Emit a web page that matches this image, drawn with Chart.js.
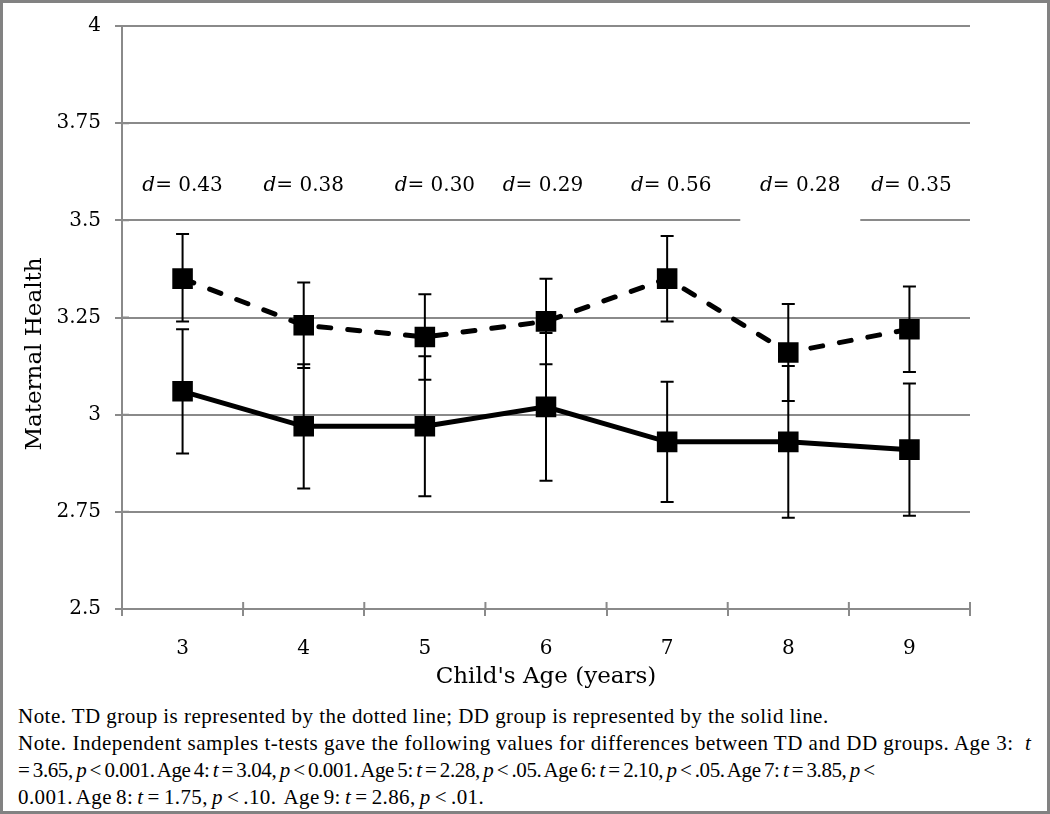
<!DOCTYPE html>
<html>
<head>
<meta charset="utf-8">
<script src="https://cdn.jsdelivr.net/npm/chart.js@4.4.0/dist/chart.umd.min.js"></script>
<style>
    html, body { margin: 0; padding: 0; background: #fff; }
    #wrap { position: relative; width: 1050px; height: 814px; overflow: hidden; background: #fff; }
    #frame { position: absolute; left: 0; top: 0; width: 1050px; height: 814px; box-sizing: border-box; border: 3px solid #828282; pointer-events: none; }
    #chart { position: absolute; left: 0; top: 0; }
    #notes { position: absolute; left: 18px; top: 703px; font-family: "Liberation Serif", serif; font-size: 21px; line-height: 27px; color: #000; white-space: nowrap; }
    #notes span { display: inline-block; }
</style>
</head>
<body>
<div id="wrap">
    <canvas id="chart" width="1050" height="700"></canvas>
    <div id="notes">
        <span data-w="811">Note. TD group is represented by the dotted line; DD group is represented by the solid line.</span><br>
        <span data-w="1013">Note. Independent samples t-tests gave the following values for differences between TD and DD groups. Age 3:&nbsp; <i>t</i></span><br>
        <span data-w="803">= 3.65, <i>p</i> &lt; 0.001. Age 4: <i>t</i> = 3.04, <i>p</i> &lt; 0.001. Age 5: <i>t</i> = 2.28, <i>p</i> &lt; .05. Age 6: <i>t</i> = 2.10, <i>p</i> &lt; .05. Age 7: <i>t</i> = 3.85, <i>p</i> &lt;</span><br>
        <span data-w="466">0.001. Age 8: <i>t</i> = 1.75, <i>p</i> &lt; .10.&nbsp; Age 9: <i>t</i> = 2.86, <i>p</i> &lt; .01.</span>
    </div>
    <div id="frame"></div>
</div>
<script>
// ages on the x axis
const ages = ['3', '4', '5', '6', '7', '8', '9'];

// TD group (dashed line) means and error bar ends
const tdMeans = [3.35, 3.23, 3.20, 3.24, 3.35, 3.16, 3.22];
const tdUpper = [3.465, 3.34, 3.31, 3.35, 3.46, 3.285, 3.33];
const tdLower = [3.24, 3.12, 3.09, 3.13, 3.24, 3.035, 3.11];

// DD group (solid line)
const ddMeans = [3.06, 2.97, 2.97, 3.02, 2.93, 2.93, 2.91];
const ddUpper = [3.22, 3.13, 3.15, 3.21, 3.085, 3.125, 3.08];
const ddLower = [2.90, 2.81, 2.79, 2.83, 2.775, 2.735, 2.74];

// Cohen's d per age
const effectSizes = ['0.43', '0.38', '0.30', '0.29', '0.56', '0.28', '0.35'];

const yTicks = ['2.5', '2.75', '3', '3.25', '3.5', '3.75', '4'];

document.addEventListener('DOMContentLoaded', function() {
    const gridGray = '#8a8a8a';
    const serif = '"DejaVu Serif", serif';

    // fit each note line (roughly) to the width it has in the original
    document.querySelectorAll('#notes span').forEach(span => {
        const target = parseFloat(span.dataset.w);
        const chars = span.textContent.length;
        if (span.getBoundingClientRect().width > target) {
            span.style.wordSpacing = '-1.5px';
        }
        const extra = (target - span.getBoundingClientRect().width) / chars;
        span.style.letterSpacing = Math.max(extra, -0.4).toFixed(2) + 'px';
    });

    // error bars + d labels, drawn after the grid, before the lines
    const extras = {
        id: 'extras',
        beforeDatasetsDraw(chart) {
            const ctx = chart.ctx;
            const x = chart.scales.x, y = chart.scales.y;

            // d labels (text boxes in the original, slightly off centre)
            const shift = [0, 0, 10, -3, 4, 12, 2];
            ctx.save();
            ctx.textBaseline = 'middle';
            effectSizes.forEach((d, i) => {
                const cx = x.getPixelForValue(i) + shift[i];
                const cy = y.getPixelForValue(3.59);
                if (i === 5) {
                    // white box of this label hides part of the 3.5 gridline
                    const top = y.getPixelForValue(3.64), bot = y.getPixelForValue(3.49);
                    ctx.fillStyle = '#fff';
                    ctx.fillRect(cx - 60, top, 120, bot - top);
                }
                ctx.fillStyle = '#000';
                ctx.font = 'italic 20px ' + serif;
                const w1 = ctx.measureText('d').width;
                ctx.font = '20px ' + serif;
                const rest = '= ' + d;
                const w2 = ctx.measureText(rest).width;
                const sx = cx - (w1 + w2) / 2;
                ctx.textAlign = 'left';
                ctx.font = 'italic 20px ' + serif;
                ctx.fillText('d', sx, cy);
                ctx.font = '20px ' + serif;
                ctx.fillText(rest, sx + w1, cy);
            });

            // error bars
            ctx.strokeStyle = '#000';
            ctx.lineWidth = 2;
            [[tdLower, tdUpper], [ddLower, ddUpper]].forEach(pair => {
                pair[0].forEach((lo, i) => {
                    const px = x.getPixelForValue(i);
                    const top = y.getPixelForValue(pair[1][i]);
                    const bot = y.getPixelForValue(lo);
                    ctx.beginPath();
                    ctx.moveTo(px, top); ctx.lineTo(px, bot);
                    ctx.moveTo(px - 6.5, top); ctx.lineTo(px + 6.5, top);
                    ctx.moveTo(px - 6.5, bot); ctx.lineTo(px + 6.5, bot);
                    ctx.stroke();
                });
            });
            ctx.restore();
        },
        afterDraw(chart) {
            const ctx = chart.ctx;
            const x = chart.scales.x, y = chart.scales.y;
            const area = chart.chartArea;
            ctx.save();
            // cross tick marks: inner half
            ctx.strokeStyle = gridGray;
            ctx.lineWidth = 2;
            ctx.beginPath();
            y.ticks.forEach(t => {
                const py = y.getPixelForValue(t.value);
                ctx.moveTo(area.left, py); ctx.lineTo(area.left + 7, py);
            });
            for (let i = 0; i <= ages.length; i++) {
                const px = x.getPixelForValue(i - 0.5);
                ctx.moveTo(px, area.bottom); ctx.lineTo(px, area.bottom - 7);
            }
            ctx.stroke();

            // y axis title
            ctx.fillStyle = '#000';
            ctx.font = '23px ' + serif;
            ctx.textAlign = 'center';
            ctx.textBaseline = 'middle';
            ctx.translate(35, 354);
            ctx.rotate(-Math.PI / 2);
            ctx.fillText('Maternal Health', 0, 0);
            ctx.restore();
        }
    };

    const ctx = document.getElementById('chart').getContext('2d');
    new Chart(ctx, {
        type: 'line',
        data: {
            labels: ages,
            datasets: [{
                label: 'TD',
                data: tdMeans,
                borderColor: '#000',
                backgroundColor: '#000',
                borderWidth: 5,
                borderDash: [12, 17],
                borderCapStyle: 'round',
                pointStyle: 'rect',
                pointRadius: 11,
                pointBackgroundColor: '#000',
                pointBorderColor: '#000',
                tension: 0
            }, {
                label: 'DD',
                data: ddMeans,
                borderColor: '#000',
                backgroundColor: '#000',
                borderWidth: 5,
                pointStyle: 'rect',
                pointRadius: 11,
                pointBackgroundColor: '#000',
                pointBorderColor: '#000',
                tension: 0
            }]
        },
        options: {
            responsive: false,
            animation: false,
            devicePixelRatio: 1,
            layout: { padding: { top: 24, right: 80, left: 0, bottom: 0 } },
            plugins: {
                legend: { display: false },
                tooltip: { enabled: false }
            },
            scales: {
                x: {
                    offset: true,
                    grid: { display: true, drawOnChartArea: false, offset: true, tickLength: 7, color: gridGray, lineWidth: 2 },
                    border: { display: true, color: gridGray, width: 2 },
                    ticks: { color: '#000', font: { family: serif, size: 20 }, padding: 21 },
                    title: { display: true, text: "Child's Age (years)", color: '#000', font: { family: serif, size: 23 }, padding: { top: 9, bottom: 9 } },
                    afterFit: s => { s.height = 91; }
                },
                y: {
                    min: 2.5,
                    max: 4,
                    grid: { color: gridGray, lineWidth: 2, tickLength: 7 },
                    border: { display: true, color: gridGray, width: 2 },
                    ticks: {
                        stepSize: 0.25,
                        color: '#000',
                        padding: 14,
                        font: { family: serif, size: 20 },
                        callback: function(value, index) { return yTicks[index]; }
                    },
                    afterFit: s => { s.width = 122; }
                }
            }
        },
        plugins: [extras]
    });
});
</script>
</body>
</html>
